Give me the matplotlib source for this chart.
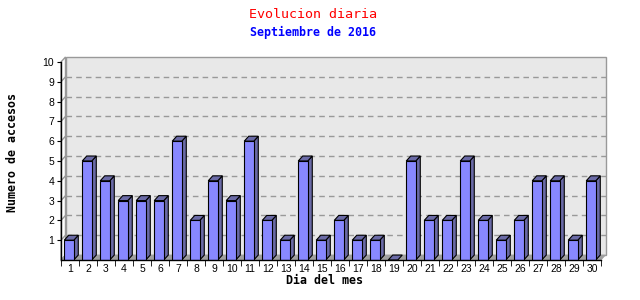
import matplotlib
matplotlib.use("Agg")
import matplotlib.pyplot as plt

# --- data ---
dias = list(range(1, 31))
accesos = [1, 5, 4, 3, 3, 3, 6, 2, 4, 3, 6, 2, 1, 5, 1, 2, 1, 1, 0, 5,
           2, 2, 5, 2, 1, 2, 4, 4, 1, 4]
yticks = list(range(1, 11))

titulo = "Evolucion diaria"
subtitulo = "Septiembre de 2016"
xlabel = "Dia del mes"
ylabel = "Numero de accesos"

# profundidad 3D (en unidades de datos)
dx, dy = 0.25, 0.25
ancho = 0.53
frente = "#8888ff"
lado = "#6a6aa6"

fig = plt.figure(figsize=(6.4, 3.0), dpi=100)
fig.patch.set_facecolor("white")
ax = fig.add_axes([61 / 640, 40 / 300, 544.5 / 640, 203 / 300])
ax.set_xlim(0.5, 30.5 + dx)
ax.set_ylim(0, 10 + dy)
ax.patch.set_visible(False)
for s in ax.spines.values():
    s.set_visible(False)

x0, x1 = 0.5, 30.5
ytop = max(yticks)

# pared del fondo
ax.fill([x0 + dx, x1 + dx, x1 + dx, x0 + dx], [dy, dy, ytop + dy, ytop + dy],
        facecolor="#e8e8e8", edgecolor="#999999", lw=1, zorder=0, clip_on=False)
# pared izquierda
ax.fill([x0, x0 + dx, x0 + dx, x0], [0, dy, ytop + dy, ytop],
        facecolor="white", edgecolor="#999999", lw=1, zorder=0, clip_on=False)
# suelo
ax.fill([x0, x1, x1 + dx, x0 + dx], [0, 0, dy, dy],
        facecolor="#a0a0a0", edgecolor="#a0a0a0", lw=0.5, zorder=0.5, clip_on=False)

# rejilla
for k in yticks[:-1]:
    ax.plot([x0 + dx, x1 + dx], [k + dy, k + dy], ls=(0, (4, 3)), color="#999999",
            lw=1, zorder=0.6)
    ax.plot([x0, x0 + dx], [k, k + dy], color="#999999", lw=1, zorder=0.6)

# barras 3D
for d, v in zip(dias, accesos):
    L = d - 0.32
    R = L + ancho
    if v > 0:
        ax.bar(L, v, width=ancho, align="edge", color=frente, edgecolor="black",
               lw=0.8, zorder=3)
        ax.fill([R, R + dx, R + dx, R], [0, dy, v + dy, v],
                facecolor=lado, edgecolor="black", lw=0.8, zorder=2)
    ax.fill([L, R, R + dx, L + dx], [v, v, v + dy, v + dy],
            facecolor=lado, edgecolor="black", lw=0.8, zorder=2)

# ejes
ax.plot([x0, x0], [0, ytop], color="black", lw=1, zorder=4, clip_on=False)
ax.plot([x0, x1], [0, 0], color="black", lw=1, zorder=4, clip_on=False)

ax.set_yticks(yticks)
ax.set_yticklabels([str(t) for t in yticks], fontsize=7.5, family="Liberation Sans")
ax.tick_params(axis="y", length=3, pad=2)

ax.set_xticks(dias)
ax.set_xticklabels([str(d) for d in dias], fontsize=7.5, family="Liberation Sans")
ax.set_xticks([d + 0.5 for d in range(0, 31)], minor=True)
ax.tick_params(axis="x", which="major", length=0, pad=3)
ax.tick_params(axis="x", which="minor", length=4)

fig.text(313 / 640, 1 - 14 / 300, titulo, color="red", fontsize=9.6,
         family="DejaVu Sans Mono", ha="center", va="center")
fig.text(313 / 640, 1 - 32 / 300, subtitulo, color="blue", fontsize=8.4,
         family="DejaVu Sans Mono", weight="bold", ha="center", va="center")
fig.text(324 / 640, 1 - 281 / 300, xlabel, color="black", fontsize=8.4,
         family="DejaVu Sans Mono", weight="bold", ha="center", va="center")
fig.text(13 / 640, 1 - 153 / 300, ylabel, color="black", fontsize=8.4,
         family="DejaVu Sans Mono", weight="bold", ha="center", va="center",
         rotation=90)

fig.savefig("out.png", dpi=100)
